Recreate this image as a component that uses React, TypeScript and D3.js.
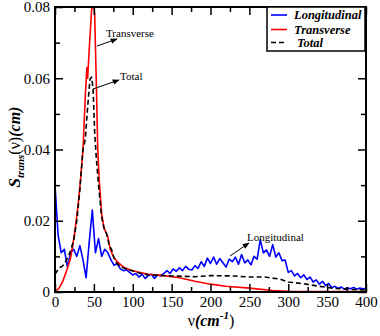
import React, { useEffect, useRef } from "react";
import { axisBottom, axisLeft, axisRight, axisTop, line, range, scaleLinear, select } from "d3";

const W = 380;
const H = 336;
const margin = { left: 55, right: 14, top: 7, bottom: 44 };
const serif = "Liberation Serif, DejaVu Serif, Times New Roman, Times, serif";

// tick values / labels
const xMajor = [0, 50, 100, 150, 200, 250, 300, 350, 400];
const xMinor = [25, 75, 125, 175, 225, 275, 325, 375];
const yMajor = [0, 0.02, 0.04, 0.06, 0.08];
const yMinor = [0.01, 0.03, 0.05, 0.07];
const yLabels = ["0", "0.02", "0.04", "0.06", "0.08"];

// Longitudinal, sampled every 4 cm^-1 from 0 to 400
const longX = range(0, 401, 4);
const longY = [
  0.030, 0.016, 0.011, 0.012, 0.007, 0.011, 0.012, 0.010, 0.013, 0.009,
  0.004, 0.014, 0.023, 0.011, 0.015, 0.010, 0.012, 0.011, 0.009, 0.0075,
  0.008, 0.0065, 0.006, 0.0062, 0.0055, 0.0048, 0.0052, 0.0042, 0.0050, 0.0038,
  0.0046, 0.0050, 0.0038, 0.0048, 0.0045, 0.0052, 0.0060, 0.0052, 0.0065, 0.0058,
  0.0068, 0.0060, 0.0072, 0.0064, 0.0062, 0.0074, 0.0066, 0.0085, 0.0072, 0.0095,
  0.0080, 0.0098, 0.0078, 0.0094, 0.0082, 0.0070, 0.0092, 0.0085, 0.0098, 0.0078,
  0.0105, 0.0082, 0.0090, 0.0076, 0.0100, 0.0092, 0.0147, 0.0110, 0.0118, 0.0100,
  0.0133, 0.0098, 0.0110, 0.0088, 0.0090, 0.0055, 0.0060, 0.0045, 0.0052, 0.0040,
  0.0048, 0.0035, 0.0042, 0.0028, 0.0034, 0.0022, 0.0030, 0.0018, 0.0024, 0.0012,
  0.0016, 0.0010, 0.0014, 0.0008, 0.0012, 0.0009, 0.0013, 0.0008, 0.0011, 0.0009,
  0.0010,
];

// Transverse
const transX = [0, 5, 10, 15, 20, 25, 30, 33, 36, 39, 41, 42, 44, 47, 49, 51, 53, 55, 57, 60,
  63, 66, 68, 71, 75, 80, 88, 95, 105, 120, 140, 160, 180, 200, 220, 250, 280, 300, 350, 400];
const transY = [0, 0.001, 0.003, 0.006, 0.0095, 0.016, 0.025, 0.032, 0.040, 0.055, 0.063, 0.060,
  0.068, 0.079, 0.082, 0.078, 0.060, 0.040, 0.031, 0.022, 0.018, 0.0165, 0.0155, 0.012, 0.010,
  0.0085, 0.007, 0.0063, 0.0057, 0.0050, 0.0046, 0.0040, 0.0030, 0.0022, 0.0016, 0.0011,
  0.0004, 0.0002, 0.0001, 0.0001];

// Total
const totalX = [0, 3, 6, 9, 12, 16, 20, 24, 28, 32, 36, 39, 42, 45, 47, 49, 51, 53, 56, 60,
  63, 66, 70, 73, 76, 79, 85, 96, 110, 120, 150, 180, 200, 230, 250, 270, 290, 300, 320, 340,
  360, 380, 400];
const totalY = [0.005, 0.006, 0.0068, 0.0072, 0.0078, 0.0095, 0.0115, 0.0145, 0.020, 0.0287,
  0.040, 0.043, 0.052, 0.0597, 0.0603, 0.057, 0.045, 0.038, 0.030, 0.021, 0.018, 0.0166, 0.013,
  0.0118, 0.0095, 0.0082, 0.007, 0.0062, 0.0052, 0.0048, 0.0045, 0.0043, 0.0046, 0.0045, 0.0042,
  0.0042, 0.0036, 0.0028, 0.0023, 0.0016, 0.0010, 0.0007, 0.0006];

const legendItems = [
  { name: "Longitudinal", color: "#0000ff", dash: "" },
  { name: "Transverse", color: "#ff0000", dash: "" },
  { name: "Total", color: "#000000", dash: "5,3" },
];

const x = scaleLinear().domain([0, 400]).range([margin.left, W - margin.right]);
const y = scaleLinear().domain([0, 0.08]).range([H - margin.bottom, margin.top]);

const zip = (xs: number[], ys: number[]) => xs.map((v, i) => [v, ys[i]] as [number, number]);
const path = line<[number, number]>()
  .x(d => x(d[0]))
  .y(d => y(d[1]));

function styleAxis(g: any) {
  g.select(".domain").remove();
  g.attr("font-family", null).attr("font-size", null);
  g.selectAll("line").attr("stroke", "#000").attr("stroke-width", 1.5);
  g.selectAll("text")
    .style("font-family", serif)
    .style("font-size", "15px")
    .attr("fill", "#000");
}

function Arrow({ x1, y1, x2, y2 }: { x1: number; y1: number; x2: number; y2: number }) {
  return <line x1={x1} y1={y1} x2={x2} y2={y2} stroke="#000" strokeWidth={1} markerEnd="url(#arr)" />;
}

export default function App() {
  const bottomRef = useRef<SVGGElement>(null);
  const topRef = useRef<SVGGElement>(null);
  const leftRef = useRef<SVGGElement>(null);
  const rightRef = useRef<SVGGElement>(null);

  useEffect(() => {
    const bottom = y(0);
    const top = y(0.08);
    const l = x(0);
    const r = x(400);

    select(bottomRef.current).selectAll("*").remove();
    select(bottomRef.current)
      .attr("transform", `translate(0,${bottom})`)
      .call(axisBottom(x).tickValues(xMajor).tickSize(-8).tickPadding(4).tickFormat(d => String(d)) as any)
      .call(styleAxis);
    select(bottomRef.current)
      .append("g")
      .call(axisBottom(x).tickValues(xMinor).tickSize(-5).tickFormat(() => "") as any)
      .call(styleAxis);

    select(topRef.current).selectAll("*").remove();
    select(topRef.current)
      .attr("transform", `translate(0,${top})`)
      .call(axisTop(x).tickValues(xMajor).tickSize(-8).tickFormat(() => "") as any)
      .call(styleAxis);
    select(topRef.current)
      .append("g")
      .call(axisTop(x).tickValues(xMinor).tickSize(-5).tickFormat(() => "") as any)
      .call(styleAxis);

    select(leftRef.current).selectAll("*").remove();
    select(leftRef.current)
      .attr("transform", `translate(${l},0)`)
      .call(axisLeft(y).tickValues(yMajor).tickSize(-8).tickPadding(5)
        .tickFormat((d, i) => yLabels[i]) as any)
      .call(styleAxis);
    select(leftRef.current)
      .append("g")
      .call(axisLeft(y).tickValues(yMinor).tickSize(-5).tickFormat(() => "") as any)
      .call(styleAxis);

    select(rightRef.current).selectAll("*").remove();
    select(rightRef.current)
      .attr("transform", `translate(${r},0)`)
      .call(axisRight(y).tickValues(yMajor).tickSize(-8).tickFormat(() => "") as any)
      .call(styleAxis);
    select(rightRef.current)
      .append("g")
      .call(axisRight(y).tickValues(yMinor).tickSize(-5).tickFormat(() => "") as any)
      .call(styleAxis);
  }, []);

  const pw = x(400) - x(0);
  const ph = y(0) - y(0.08);
  const lgX = 267;
  const lgY = 7;
  const tf = { fontFamily: serif };

  return (
    <svg width={W} height={H} style={{ position: "absolute", left: 0, top: 0, background: "#fff" }}>
      <defs>
        <clipPath id="plot">
          <rect x={x(0)} y={y(0.08)} width={pw} height={ph} />
        </clipPath>
        <marker id="arr" viewBox="0 0 10 10" refX="9" refY="5" markerWidth="7" markerHeight="7" orient="auto">
          <path d="M0,1 L10,5 L0,9 z" fill="#000" />
        </marker>
      </defs>

      <g clipPath="url(#plot)" fill="none" strokeLinejoin="round">
        <path d={path(zip(longX, longY)) || ""} stroke="#0000ff" strokeWidth={1.6} />
        <path d={path(zip(transX, transY)) || ""} stroke="#ff0000" strokeWidth={1.6} />
        <path d={path(zip(totalX, totalY)) || ""} stroke="#000" strokeWidth={1.6} strokeDasharray="5,3" />
      </g>

      <g ref={bottomRef} />
      <g ref={topRef} />
      <g ref={leftRef} />
      <g ref={rightRef} />
      <rect x={x(0)} y={y(0.08)} width={pw} height={ph} fill="none" stroke="#000" strokeWidth={2} />

      {/* annotations */}
      <g style={{ ...tf, fontSize: "11px" }} fill="#000">
        <text x={106} y={37}>Transverse</text>
        <Arrow x1={97} y1={46} x2={117} y2={39} />
        <text x={120} y={80}>Total</text>
        <Arrow x1={93} y1={89} x2={119} y2={80} />
        <text x={247} y={241}>Longitudinal</text>
        <Arrow x1={230} y1={256} x2={249} y2={243} />
      </g>

      {/* legend */}
      <g>
        <rect x={lgX} y={lgY} width={98} height={44} fill="#fff" stroke="#000" strokeWidth={1.5} />
        {legendItems.map((d, i) => {
          const yy = [15, 29.5, 42.5][i];
          return (
            <g key={d.name}>
              <line x1={lgX + 4} x2={lgX + 20} y1={yy} y2={yy} stroke={d.color} strokeWidth={1.6}
                strokeDasharray={d.dash} />
              <text x={d.name === "Total" ? lgX + 30 : lgX + 27} y={yy + 4}
                style={{ ...tf, fontSize: "12.5px", fontWeight: "bold", fontStyle: "italic" }}>{d.name}</text>
            </g>
          );
        })}
      </g>

      {/* axis titles */}
      <text transform="translate(20,147) rotate(-90)" textAnchor="middle" style={{ ...tf, fontSize: "16px" }}>
        <tspan style={{ fontWeight: "bold", fontStyle: "italic", fontSize: "17px" }}>S</tspan>
        <tspan style={{ fontWeight: "bold", fontStyle: "italic", fontSize: "11px" }} dy={4}>trans</tspan>
        <tspan dy={-4}>(ν)</tspan>
        <tspan style={{ fontWeight: "bold", fontStyle: "italic" }}>(cm)</tspan>
      </text>
      <text x={211} y={326} textAnchor="middle" style={{ ...tf, fontSize: "16px" }}>
        <tspan>ν</tspan>
        <tspan style={{ fontWeight: "bold", fontStyle: "italic" }}>(cm</tspan>
        <tspan style={{ fontWeight: "bold", fontStyle: "italic", fontSize: "11px" }} dy={-7}>-1</tspan>
        <tspan dy={7}>)</tspan>
      </text>
    </svg>
  );
}
